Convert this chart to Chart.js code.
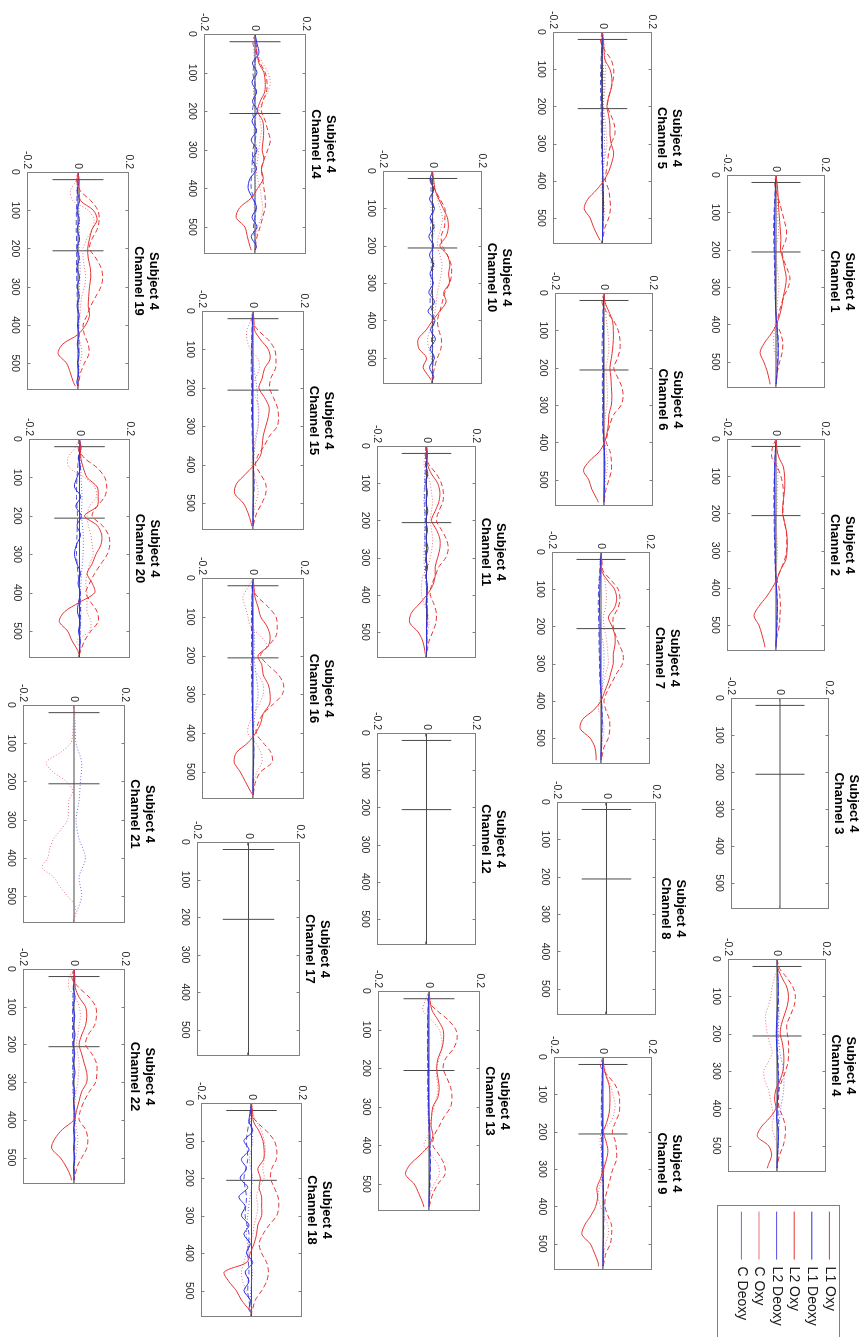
<!DOCTYPE html>
<html>
<head>
<meta charset="utf-8">
<script src="https://cdn.jsdelivr.net/npm/chart.js@4.4.1/dist/chart.umd.min.js"></script>
<style>
  html, body { margin: 0; padding: 0; background: #fff; overflow: hidden; }
  #page { position: absolute; left: 0; top: 0; width: 1337px; height: 865px;
          transform-origin: 0 0; transform: translate(865px, 0) rotate(90deg); }
  #page canvas { position: absolute; }
</style>
</head>
<body>
<div id="page"></div>
<script>
// ---- data ----
const channels = [1, 2, 3, 4, 5, 6, 7, 8, 9, 10, 11, 12, 13, 14, 15, 16, 17, 18, 19, 20, 21, 22];
const seriesNames = ["L1 Oxy", "L1 Deoxy", "L2 Oxy", "L2 Deoxy", "C Oxy", "C Deoxy"];
const tFine = [0, 25, 50, 75, 100, 125, 150, 175, 200, 225, 250, 275, 300, 325, 350, 375, 400, 425, 450, 475, 500, 525, 550, 560];
const tCoarse = [0, 50, 100, 150, 200, 250, 300, 350, 400, 450, 500, 550, 560];
const xTicks = [0, 100, 200, 300, 400, 500];
const yTicks = [-0.2, 0, 0.2];
const xRange = [0, 570];
const yRange = [-0.2, 0.2];
const markerTimes = [20, 206];
const markerHalf = 0.1;

// one row per channel, null = channel without data (sampled on tFine)
const l1Oxy = [
  [0, 0.005, 0.008, 0.01, 0.012, 0.015, 0.018, 0.02, 0.018, 0.028, 0.035, 0.042, 0.038, 0.03, 0.024, 0.015, 0.002, -0.02, -0.048, -0.065, -0.05, -0.036, -0.027, -0.024],
  [0, 0.003, 0.012, 0.03, 0.035, 0.036, 0.033, 0.028, 0.027, 0.035, 0.043, 0.046, 0.045, 0.04, 0.02, 0.005, -0.015, -0.04, -0.07, -0.09, -0.07, -0.058, -0.048, -0.045],
  null,
  [0, 0.004, 0.02, 0.04, 0.047, 0.042, 0.03, 0.018, 0.013, 0.022, 0.027, 0.028, 0.024, 0.012, -0.005, -0.01, -0.005, -0.03, -0.065, -0.08, -0.034, -0.022, -0.035, -0.04],
  [0, 0.004, 0.006, 0.01, 0.03, 0.038, 0.036, 0.025, 0.018, 0.025, 0.03, 0.03, 0.035, 0.045, 0.038, 0.025, 0.005, -0.025, -0.06, -0.074, -0.05, -0.036, -0.018, -0.01],
  [0, 0.004, 0.02, 0.035, 0.038, 0.038, 0.035, 0.03, 0.024, 0.028, 0.03, 0.032, 0.03, 0.02, 0.018, 0.012, 0.002, -0.02, -0.06, -0.084, -0.062, -0.05, -0.03, -0.023],
  [0, 0.002, 0.002, 0.025, 0.055, 0.064, 0.055, 0.03, 0.045, 0.057, 0.057, 0.05, 0.05, 0.04, 0.03, 0.015, 0, -0.03, -0.075, -0.085, -0.045, -0.025, -0.02, -0.02],
  null,
  [0, 0.003, 0.012, 0.025, 0.028, 0.028, 0.025, 0.015, 0.002, 0.012, 0.02, 0.014, 0.002, -0.01, -0.025, -0.022, -0.03, -0.05, -0.075, -0.086, -0.052, -0.035, -0.02, -0.018],
  [0, 0.005, 0.01, 0.025, 0.043, 0.06, 0.064, 0.055, 0.03, 0.06, 0.07, 0.065, 0.068, 0.045, 0.055, 0.03, 0, -0.025, -0.058, -0.055, -0.024, -0.038, -0.015, -0.005],
  [0, 0.003, 0.004, 0.02, 0.045, 0.054, 0.05, 0.035, 0.02, 0.04, 0.054, 0.054, 0.045, 0.035, 0.035, 0.025, 0.002, -0.03, -0.062, -0.068, -0.034, -0.015, -0.007, -0.005],
  null,
  [0, 0.004, 0.012, 0.035, 0.055, 0.057, 0.05, 0.035, 0.03, 0.035, 0.04, 0.035, 0.015, 0.01, 0.008, 0.015, 0, -0.035, -0.075, -0.092, -0.058, -0.04, -0.024, -0.02],
  [0, 0.002, 0.008, 0.015, 0.035, 0.04, 0.038, 0.02, 0.01, 0.03, 0.034, 0.032, 0.028, 0.035, 0.025, 0.032, 0.01, -0.015, -0.06, -0.074, -0.04, -0.03, -0.02, -0.015],
  [0, 0.004, 0.006, 0.03, 0.06, 0.067, 0.045, 0.036, 0.023, 0.045, 0.063, 0.06, 0.05, 0.04, 0.036, 0.03, 0.005, -0.03, -0.065, -0.072, -0.038, -0.02, -0.008, -0.005],
  [0, 0.004, 0.008, 0.02, 0.03, 0.055, 0.067, 0.06, 0.02, 0.035, 0.04, 0.06, 0.067, 0.065, 0.04, 0.03, 0.01, -0.02, -0.065, -0.074, -0.05, -0.03, -0.01, 0],
  null,
  [0, 0.004, 0.008, 0.03, 0.045, 0.05, 0.048, 0.025, 0.035, 0.03, 0.04, 0.04, 0.04, 0.025, 0.02, 0.01, -0.005, -0.02, -0.108, -0.09, -0.06, -0.04, -0.01, 0],
  [0, 0.004, 0.005, 0.01, 0.06, 0.075, 0.055, 0.045, 0.038, 0.04, 0.048, 0.05, 0.045, 0.042, 0.04, 0.045, 0.03, 0, -0.06, -0.078, -0.045, -0.03, -0.018, -0.01],
  [0, 0.004, 0.005, 0.015, 0.03, 0.07, 0.074, 0.07, 0.02, 0.07, 0.088, 0.085, 0.065, 0.05, 0.03, 0.05, 0.06, 0, -0.06, -0.08, -0.047, -0.03, -0.007, -0.003],
  null,
  [0, 0.003, 0.005, 0.02, 0.045, 0.05, 0.045, 0.03, 0.02, 0.03, 0.04, 0.05, 0.05, 0.03, 0.02, 0.01, 0, -0.045, -0.075, -0.088, -0.054, -0.03, -0.013, -0.01]
];

const l1Deoxy = [
  [0, -0.002, -0.003, -0.004, -0.005, -0.006, -0.006, -0.005, -0.005, -0.004, -0.004, -0.003, -0.003, -0.002, -0.002, 0, 0.003, 0.006, 0.008, 0.009, 0.008, 0.005, 0.002, 0],
  [0, -0.002, -0.004, -0.005, -0.006, -0.006, -0.005, -0.006, -0.005, -0.004, -0.005, -0.004, -0.003, -0.003, -0.002, 0, 0.002, 0.004, 0.005, 0.004, 0.003, 0.002, 0, 0],
  null,
  [0, 0.002, 0.004, 0.005, 0.004, 0.002, 0, -0.002, -0.003, -0.002, 0, 0.002, 0.004, 0.005, 0.004, 0.002, 0, -0.002, 0.003, 0.006, 0.004, 0.002, 0, 0],
  [0, -0.002, -0.003, -0.003, -0.004, -0.004, -0.003, -0.004, -0.003, -0.002, -0.003, -0.002, -0.002, -0.001, 0, 0.001, 0.002, 0.003, 0.004, 0.003, 0.002, 0.001, 0, 0],
  [0, -0.002, -0.003, -0.003, -0.002, -0.003, -0.002, -0.003, -0.002, -0.002, -0.003, -0.002, -0.002, -0.003, -0.004, -0.002, 0, 0.002, 0.003, 0.003, 0.002, 0.001, 0, 0],
  [0, -0.002, -0.003, -0.004, -0.005, -0.006, -0.006, -0.005, -0.004, -0.005, -0.004, -0.004, -0.003, -0.003, -0.002, 0, 0.002, 0.003, 0.004, 0.003, 0.002, 0.001, 0, 0],
  null,
  [0, -0.002, -0.003, -0.003, -0.004, -0.003, -0.003, -0.002, -0.002, -0.003, -0.002, -0.002, 0, 0.001, 0.002, 0.002, 0.003, 0.003, 0.002, 0.002, 0.001, 0, 0, 0],
  [0, -0.01, 0.005, -0.012, 0.008, -0.01, 0.006, -0.015, 0.004, -0.012, 0.005, -0.01, 0.003, -0.015, 0.008, -0.018, 0.01, -0.008, 0.012, -0.01, 0.008, -0.012, 0.005, 0],
  [0, 0.004, -0.002, 0.005, -0.003, 0.004, -0.002, 0.005, -0.003, 0.004, -0.002, 0.006, -0.003, 0.004, -0.002, 0.004, 0.002, -0.002, 0.003, 0.001, 0, 0.001, 0, 0],
  null,
  [0, -0.002, -0.003, -0.004, -0.003, -0.003, -0.004, -0.003, -0.002, -0.003, -0.002, -0.002, -0.001, 0, 0.002, 0.004, 0.003, 0.003, 0.004, 0.003, 0.002, 0.001, 0, 0],
  [0, 0.008, 0.015, -0.01, 0.008, -0.012, 0.006, -0.01, 0.01, -0.012, 0.005, -0.015, 0.008, -0.01, 0.006, -0.02, -0.027, -0.01, 0.006, -0.012, 0.008, -0.015, 0.006, 0],
  [0, -0.002, -0.003, -0.003, -0.004, -0.004, -0.003, -0.003, -0.002, -0.003, -0.002, -0.002, -0.001, 0, 0.001, 0.002, 0.002, 0.002, 0.003, 0.002, 0.001, 0, 0, 0],
  [0, -0.002, -0.003, -0.003, -0.002, -0.003, -0.002, -0.003, -0.002, -0.003, -0.002, -0.003, -0.003, -0.002, -0.002, -0.001, 0, 0.002, 0.003, 0.002, 0.001, 0, 0, 0],
  null,
  [0, -0.005, -0.01, 0.005, -0.03, -0.01, -0.04, -0.02, -0.045, -0.015, -0.05, -0.025, -0.04, -0.01, -0.03, -0.005, -0.02, 0.005, -0.025, -0.01, -0.03, -0.005, -0.01, 0],
  [0, 0.004, -0.003, 0.006, -0.004, 0.005, -0.003, 0.006, -0.004, 0.005, -0.004, 0.006, -0.003, 0.005, -0.004, 0.005, -0.002, 0.004, -0.003, 0.004, -0.002, 0.003, -0.005, 0],
  [0, 0.006, -0.005, 0.004, -0.01, -0.02, 0.005, -0.015, 0.007, -0.01, 0.004, -0.012, -0.02, -0.01, 0.004, -0.006, 0.003, -0.004, -0.008, 0.002, -0.004, 0.003, 0, 0],
  null,
  [0, 0.003, -0.002, 0.004, -0.003, 0.003, -0.002, 0.004, -0.003, 0.003, -0.002, 0.004, -0.003, 0.003, -0.002, 0.003, 0.004, -0.002, 0.003, -0.002, 0.003, -0.002, 0, 0]
];

const l2Oxy = [
  [0, -0.005, 0.004, 0.015, 0.025, 0.035, 0.043, 0.04, 0.025, 0.03, 0.045, 0.057, 0.05, 0.032, 0.02, 0.01, 0.005, 0.02, 0.028, 0.025, 0.015, 0.006, 0, 0],
  [0, -0.015, -0.017, 0.005, 0.02, 0.028, 0.03, 0.03, 0.028, 0.035, 0.042, 0.044, 0.043, 0.035, 0.02, 0.005, 0.012, 0.016, 0.018, 0.016, 0.014, 0.006, 0, 0],
  null,
  [0, 0.01, 0.04, 0.065, 0.075, 0.07, 0.055, 0.04, 0.042, 0.047, 0.047, 0.045, 0.035, 0.02, 0.008, 0.004, 0.01, 0.025, 0.034, 0.033, 0.025, 0.01, 0.002, 0],
  [0, -0.008, 0.01, 0.035, 0.045, 0.044, 0.035, 0.025, 0.02, 0.035, 0.048, 0.05, 0.035, 0.025, 0.02, 0.015, 0.012, 0.025, 0.03, 0.032, 0.025, 0.01, 0.003, 0],
  [0, -0.008, 0.01, 0.04, 0.058, 0.065, 0.065, 0.055, 0.04, 0.055, 0.072, 0.078, 0.07, 0.04, 0.025, 0.015, 0.01, 0.025, 0.03, 0.03, 0.02, 0.008, 0.002, 0],
  [0, 0.004, 0.008, 0.04, 0.07, 0.077, 0.07, 0.05, 0.05, 0.06, 0.075, 0.09, 0.088, 0.065, 0.045, 0.025, 0.012, 0.02, 0.034, 0.036, 0.03, 0.012, 0.004, 0],
  null,
  [0, -0.01, 0.02, 0.05, 0.065, 0.068, 0.066, 0.05, 0.038, 0.05, 0.055, 0.055, 0.04, 0.03, 0.02, 0.01, 0.008, 0.02, 0.035, 0.035, 0.03, 0.012, 0.004, 0],
  [0, -0.008, 0.01, 0.03, 0.05, 0.05, 0.048, 0.035, 0.04, 0.06, 0.075, 0.077, 0.07, 0.05, 0.04, 0.03, 0.02, 0.025, 0.036, 0.034, 0.02, 0.008, 0.002, 0],
  [0, -0.005, 0.01, 0.04, 0.06, 0.068, 0.066, 0.05, 0.04, 0.06, 0.08, 0.088, 0.078, 0.05, 0.035, 0.02, 0.015, 0.03, 0.04, 0.038, 0.025, 0.01, 0.003, 0],
  null,
  [0, -0.005, 0.03, 0.075, 0.105, 0.11, 0.095, 0.065, 0.055, 0.07, 0.085, 0.09, 0.085, 0.06, 0.04, 0.02, 0.015, 0.04, 0.06, 0.063, 0.035, 0.015, 0.004, 0],
  [0, -0.008, 0.005, 0.02, 0.04, 0.047, 0.045, 0.03, 0.025, 0.04, 0.05, 0.06, 0.05, 0.035, 0.025, 0.03, 0.035, 0.04, 0.04, 0.03, 0.02, 0.008, 0.002, 0],
  [0, -0.005, 0.02, 0.06, 0.085, 0.09, 0.088, 0.07, 0.065, 0.08, 0.095, 0.1, 0.095, 0.065, 0.045, 0.02, 0.01, 0.03, 0.05, 0.05, 0.035, 0.015, 0.004, 0],
  [0, -0.005, 0.02, 0.06, 0.09, 0.095, 0.09, 0.06, 0.03, 0.06, 0.1, 0.12, 0.115, 0.08, 0.04, 0.02, 0.012, 0.04, 0.07, 0.075, 0.03, 0.01, 0.003, 0],
  null,
  [0, -0.005, 0.02, 0.06, 0.09, 0.1, 0.098, 0.08, 0.075, 0.09, 0.105, 0.108, 0.1, 0.07, 0.045, 0.03, 0.04, 0.06, 0.067, 0.06, 0.04, 0.015, 0.004, 0],
  [0, -0.005, 0.01, 0.05, 0.078, 0.083, 0.075, 0.055, 0.045, 0.07, 0.09, 0.097, 0.09, 0.07, 0.05, 0.035, 0.02, 0.025, 0.04, 0.043, 0.025, 0.01, 0.003, 0],
  [0, -0.005, 0.02, 0.07, 0.1, 0.108, 0.1, 0.07, 0.05, 0.09, 0.115, 0.12, 0.11, 0.085, 0.06, 0.04, 0.025, 0.045, 0.07, 0.074, 0.045, 0.02, 0.005, 0],
  null,
  [0, -0.008, 0.02, 0.06, 0.085, 0.088, 0.08, 0.055, 0.045, 0.07, 0.088, 0.09, 0.085, 0.06, 0.04, 0.025, 0.02, 0.045, 0.054, 0.05, 0.03, 0.012, 0.003, 0]
];

// sampled on tCoarse
const l2Deoxy = [
  [0, -0.004, -0.008, -0.01, -0.008, -0.006, -0.004, -0.002, 0.004, 0.01, 0.006, 0.002, 0],
  [0, -0.004, -0.007, -0.009, -0.008, -0.007, -0.005, -0.003, 0.002, 0.006, 0.004, 0.001, 0],
  null,
  [0, 0.003, 0.006, 0.004, -0.002, 0.003, 0.006, 0.008, 0.004, 0.006, 0.004, 0.001, 0],
  [0, -0.004, -0.007, -0.008, -0.006, -0.005, -0.004, -0.002, 0.002, 0.004, 0.003, 0.001, 0],
  [0, -0.004, -0.006, -0.008, -0.006, -0.007, -0.005, -0.006, -0.002, 0.003, 0.002, 0.001, 0],
  [0, -0.005, -0.01, -0.011, -0.009, -0.008, -0.006, -0.004, 0.002, 0.005, 0.003, 0.001, 0],
  null,
  [0, -0.003, -0.006, -0.007, -0.006, -0.005, -0.004, 0, 0.002, 0.003, 0.002, 0.001, 0],
  [0, -0.006, 0.004, -0.008, 0.003, -0.006, 0.002, -0.01, 0.006, -0.004, 0.003, -0.002, 0],
  [0, -0.004, -0.006, -0.007, -0.005, -0.006, -0.004, -0.003, 0.002, 0.003, 0.002, 0.001, 0],
  null,
  [0, -0.004, -0.006, -0.006, -0.005, -0.005, -0.003, -0.001, 0.004, 0.006, 0.004, 0.001, 0],
  [0, 0.006, -0.008, 0.005, -0.01, 0.006, -0.008, -0.012, -0.015, 0.004, -0.006, 0.003, 0],
  [0, -0.004, -0.006, -0.007, -0.005, -0.006, -0.004, -0.002, 0.002, 0.004, 0.002, 0.001, 0],
  [0, -0.004, -0.006, -0.006, -0.005, -0.006, -0.004, -0.003, 0.002, 0.003, 0.002, 0.001, 0],
  null,
  [0, -0.01, -0.02, -0.015, -0.03, -0.02, -0.025, -0.01, -0.015, -0.01, -0.015, -0.004, 0],
  [0, -0.003, -0.006, -0.007, -0.005, -0.006, -0.004, -0.002, 0.002, 0.004, 0.002, 0.001, 0],
  [0, -0.004, -0.01, -0.012, -0.008, -0.01, -0.012, -0.006, 0.002, 0.004, 0.002, 0.001, 0],
  null,
  [0, -0.003, -0.005, -0.006, -0.005, -0.005, -0.004, -0.002, 0.002, 0.003, 0.002, 0.001, 0]
];

// sampled on tFine
const cOxy = [
  [0, 0.002, 0.004, 0.006, 0.005, 0.008, 0.01, 0.006, -0.004, 0.002, 0.006, 0.01, 0.012, 0.008, 0.005, 0.002, -0.004, -0.008, -0.01, -0.006, 0.004, 0.003, 0, 0],
  [0, 0.003, 0.002, 0.005, 0.008, 0.006, 0.004, 0.005, 0.003, -0.003, 0.002, 0.005, 0.006, 0.004, 0.002, 0, -0.004, -0.002, 0.004, 0.006, 0.003, 0.002, 0, 0],
  null,
  [0, 0.002, -0.01, -0.02, -0.025, -0.035, -0.047, -0.045, -0.04, -0.03, -0.02, -0.035, -0.054, -0.05, -0.035, -0.027, -0.02, -0.015, -0.02, -0.01, 0.005, 0.003, 0, 0],
  [0, 0.005, 0.008, 0.01, 0.012, 0.01, 0.01, 0.006, 0.004, 0.008, 0.012, 0.015, 0.018, 0.012, 0.006, 0.002, -0.003, -0.005, 0.004, 0.008, 0.005, 0.002, 0, 0],
  [0, 0.003, 0.006, 0.01, 0.015, 0.018, 0.02, 0.015, 0.008, 0.01, 0.012, 0.014, 0.012, 0.006, 0.003, 0.002, 0.004, 0.01, 0.015, 0.012, 0.006, 0.003, 0, 0],
  [0, -0.005, 0.005, 0.015, 0.02, 0.022, 0.018, 0.01, 0.012, 0.02, 0.025, 0.028, 0.03, 0.02, 0.01, 0.004, -0.005, -0.01, 0.005, 0.012, 0.008, 0.003, 0, 0],
  null,
  [0, 0.005, 0.015, 0.03, 0.04, 0.049, 0.045, 0.03, -0.005, -0.012, -0.008, 0.002, 0.006, -0.005, -0.015, -0.02, -0.01, 0.005, 0.02, 0.022, 0.01, 0.004, 0, 0],
  [0, 0.004, 0.012, 0.02, 0.03, 0.04, 0.035, 0.025, 0.02, 0.03, 0.038, 0.035, 0.028, 0.02, 0.015, 0.01, 0.004, -0.01, -0.02, -0.015, -0.005, 0, 0.002, 0],
  [0, -0.005, -0.01, 0.005, 0.015, 0.02, 0.025, 0.02, 0.015, 0.02, 0.025, 0.022, 0.015, 0.005, -0.015, -0.02, -0.02, -0.01, 0.005, 0.01, 0.005, 0.002, 0, 0],
  null,
  [0, -0.015, -0.024, 0.01, 0.04, 0.05, 0.05, 0.04, 0.03, 0.03, 0.035, 0.03, 0.02, 0.01, 0.005, -0.005, -0.02, 0.01, 0.035, 0.04, 0.02, 0.006, 0, 0],
  [0, 0.005, 0.01, 0.03, 0.05, 0.06, 0.05, 0.03, 0.015, 0.02, 0.025, 0.02, 0.015, 0.01, 0.005, 0.01, 0.02, 0.025, 0.03, 0.025, 0.01, 0.004, 0, 0],
  [0, -0.01, -0.024, -0.024, -0.01, 0.02, 0.025, 0.01, -0.005, 0.01, 0.023, 0.023, 0.02, 0.01, 0.005, 0.002, -0.005, 0.005, 0.015, 0.02, 0.01, 0.004, 0, 0],
  [0, -0.02, -0.04, -0.03, -0.02, -0.01, 0.03, 0.054, 0.02, -0.01, 0.02, 0.04, 0.04, 0.025, 0.005, -0.015, -0.02, 0.01, 0.03, 0.035, 0.015, 0.004, 0, 0],
  null,
  [0, 0.005, 0.02, 0.04, 0.05, 0.055, 0.05, 0.045, 0.05, 0.03, 0.02, 0.025, 0.02, 0.01, 0.005, -0.01, -0.02, -0.03, -0.04, -0.035, -0.02, -0.005, 0, 0],
  [0, -0.01, -0.03, -0.02, 0.04, 0.063, 0.055, 0.035, 0.02, 0.02, 0.025, 0.03, 0.025, 0.015, 0.01, 0.008, 0.005, 0, 0.01, 0.015, 0.008, 0.003, 0, 0],
  [0, -0.02, -0.047, -0.04, 0.02, 0.06, 0.067, 0.04, 0.03, 0.035, 0.045, 0.05, 0.054, 0.04, 0.03, 0.025, 0.03, 0.03, 0.03, 0.045, 0.04, -0.01, 0.005, 0],
  [0, 0.003, -0.003, -0.005, -0.013, -0.055, -0.109, -0.083, -0.03, -0.005, -0.02, -0.022, -0.025, -0.05, -0.08, -0.095, -0.103, -0.125, -0.08, -0.055, -0.025, 0.004, 0.002, 0],
  [0, -0.02, -0.02, 0.005, 0.02, 0.025, 0.02, 0.015, 0.01, 0.015, 0.02, 0.018, 0.015, 0.008, 0.004, 0.002, 0.005, 0.01, 0.015, 0.012, 0.006, 0.002, 0, 0]
];

// sampled on tCoarse
const cDeoxy = [
  [0, -0.003, -0.005, -0.004, -0.006, -0.003, -0.004, -0.002, 0.002, 0.004, 0.002, 0, 0],
  [0, -0.002, -0.006, -0.005, -0.007, -0.004, -0.003, -0.002, 0.001, 0.003, 0.002, 0, 0],
  null,
  [0, 0.004, 0.006, 0.008, 0.005, 0.012, 0.027, 0.027, 0.015, 0.008, 0.004, 0.002, 0],
  [0, -0.003, 0.004, 0.006, 0.003, 0.005, 0.008, 0.004, 0.001, 0.002, 0.001, 0, 0],
  [0, -0.002, -0.004, -0.003, -0.005, -0.004, -0.006, -0.004, 0, 0.002, 0.001, 0, 0],
  [0, -0.003, -0.008, -0.006, -0.007, 0.01, 0.012, 0.006, 0.002, 0.003, 0.002, 0, 0],
  null,
  [0, -0.002, -0.004, -0.005, -0.003, -0.004, -0.006, -0.002, 0.001, 0.002, 0.001, 0, 0],
  [0, 0.004, -0.006, 0.008, -0.004, 0.006, -0.008, 0.005, -0.003, 0.004, -0.002, 0.001, 0],
  [0, -0.005, -0.008, -0.01, -0.006, -0.008, -0.01, -0.006, 0.004, 0.003, 0.001, 0, 0],
  null,
  [0, -0.003, -0.004, -0.005, -0.004, -0.005, -0.004, -0.002, 0.003, 0.004, 0.002, 0, 0],
  [0, -0.004, 0.004, -0.006, 0.005, -0.004, 0.006, -0.005, 0.003, -0.003, 0.002, 0, 0],
  [0, -0.002, -0.005, 0.004, 0.015, 0.02, 0.02, 0.008, 0.002, 0.003, 0.001, 0, 0],
  [0, -0.003, -0.004, 0.006, 0.004, 0.012, 0.02, 0.008, 0.002, 0.003, 0.001, 0, 0],
  null,
  [0, -0.005, 0.005, -0.008, 0.004, -0.006, -0.015, -0.02, -0.01, 0.004, -0.004, 0, 0],
  [0, -0.004, 0.004, 0.006, 0.004, 0.008, 0.006, 0.003, 0.002, 0.004, 0.002, 0, 0],
  [0, 0.004, 0.006, 0.01, 0.008, 0.015, 0.014, 0.008, 0.004, 0.006, 0.003, 0, 0],
  [0, 0.004, 0.008, 0.03, 0.025, 0.02, 0.008, 0.02, 0.045, 0.02, 0.03, 0.005, 0],
  [0, -0.002, -0.004, -0.003, -0.004, -0.003, -0.004, -0.002, 0.001, 0.002, 0.001, 0, 0]
];

// ---- layout: plot boxes as seen on the rotated page (left, top, width, height) ----
const panelBoxes = [
  [727, 175, 98, 213], [727, 439, 98, 212], [731, 698, 98, 211], [728, 959, 98, 213],
  [553, 32, 99, 212], [555, 293, 98, 213], [552, 552, 98, 212], [557, 802, 99, 213], [554, 1057, 98, 213],
  [383, 171, 99, 213], [377, 446, 99, 212], [377, 733, 99, 212], [378, 991, 102, 220],
  [204, 34, 102, 220], [202, 311, 102, 219], [202, 578, 102, 221], [197, 842, 103, 214], [201, 1103, 101, 214],
  [27, 172, 102, 218], [29, 439, 101, 219], [23, 705, 102, 218], [23, 969, 102, 215]
];
const PAGE_H = 865;
const M_SIDE = 34, M_TOP = 34, M_BOTTOM = 22;
const FONT = "'Liberation Sans', Arial, Helvetica, sans-serif";

const seriesStyle = [
  { color: "rgb(232,50,50)", dash: [] },
  { color: "rgb(45,45,225)", dash: [] },
  { color: "rgb(232,50,50)", dash: [5, 3] },
  { color: "rgb(80,80,225)", dash: [5, 3] },
  { color: "rgb(236,115,125)", dash: [1, 2] },
  { color: "rgb(110,110,228)", dash: [1, 2] }
];
const seriesData = [l1Oxy, l1Deoxy, l2Oxy, l2Deoxy, cOxy, cDeoxy];
const seriesTimes = [tFine, tFine, tFine, tCoarse, tFine, tCoarse];

Chart.defaults.font.family = FONT;

function toPoints(times, values) {
    return values.map((v, i) => ({ x: times[i], y: v }));
}

// frame + inward ticks like the original figure
const framePlugin = {
    id: "frame",
    afterDraw(chart) {
        const { ctx, chartArea: a, scales } = chart;
        const l = Math.round(a.left) + 0.5, t = Math.round(a.top) + 0.5;
        const r = Math.round(a.right) - 0.5, b = Math.round(a.bottom) - 0.5;
        ctx.save();
        ctx.strokeStyle = "#808080";
        ctx.lineWidth = 1;
        ctx.setLineDash([]);
        ctx.strokeRect(l, t, r - l, b - t);
        ctx.beginPath();
        xTicks.slice(1).forEach(v => {
            const px = Math.round(scales.x.getPixelForValue(v)) + 0.5;
            ctx.moveTo(px, t); ctx.lineTo(px, t + 3);
            ctx.moveTo(px, b); ctx.lineTo(px, b - 3);
        });
        const py = Math.round(scales.y.getPixelForValue(0)) + 0.5;
        ctx.moveTo(l, py); ctx.lineTo(l + 3, py);
        ctx.moveTo(r, py); ctx.lineTo(r - 3, py);
        ctx.stroke();
        ctx.restore();
    }
};

const page = document.getElementById("page");

channels.forEach((ch, idx) => {
    const [bx, by, bw, bh] = panelBoxes[idx];
    const plotLeft = by, plotTop = PAGE_H - bx - bw, plotW = bh, plotH = bw;

    const canvas = document.createElement("canvas");
    canvas.width = plotW + 2 * M_SIDE;
    canvas.height = plotH + M_TOP + M_BOTTOM;
    canvas.style.left = (plotLeft - M_SIDE) + "px";
    canvas.style.top = (plotTop - M_TOP) + "px";
    page.appendChild(canvas);

    const datasets = [];
    seriesNames.forEach((name, s) => {
        const vals = seriesData[s][idx];
        if (!vals) return;
        datasets.push({
            label: name,
            data: toPoints(seriesTimes[s], vals),
            borderColor: seriesStyle[s].color,
            backgroundColor: "transparent",
            borderDash: seriesStyle[s].dash,
            borderWidth: 1,
            pointRadius: 0,
            tension: 0.3,
            order: 0
        });
    });
    // zero line and the two event markers
    datasets.push({
        label: "zero",
        data: [{ x: xRange[0], y: 0 }, { x: xRange[1], y: 0 }],
        borderColor: "#4a4a4a", borderWidth: 1, pointRadius: 0, order: 1
    });
    markerTimes.forEach(t => {
        datasets.push({
            label: "marker",
            data: [{ x: t, y: -markerHalf }, { x: t, y: markerHalf }],
            borderColor: "#4a4a4a", borderWidth: 1, pointRadius: 0, order: 1
        });
    });

    new Chart(canvas, {
        type: "line",
        data: { datasets },
        options: {
            responsive: false,
            animation: false,
            devicePixelRatio: 1,
            layout: { padding: 0 },
            plugins: {
                legend: { display: false },
                tooltip: { enabled: false },
                title: {
                    display: true,
                    text: ["Subject 4", "Channel " + ch],
                    color: "#000",
                    font: { size: 13, weight: "bold", lineHeight: "15px" },
                    padding: { top: 2, bottom: 2 }
                }
            },
            scales: {
                x: {
                    type: "linear", min: xRange[0], max: xRange[1],
                    grid: { display: false, drawTicks: false },
                    border: { display: false },
                    ticks: { color: "#262626", font: { size: 10.5 }, padding: 6, maxRotation: 0, autoSkip: false },
                    afterBuildTicks: s => { s.ticks = xTicks.map(v => ({ value: v })); },
                    afterFit: s => { s.height = M_BOTTOM; }
                },
                y: {
                    type: "linear", min: yRange[0], max: yRange[1],
                    grid: { display: false, drawTicks: false },
                    border: { display: false },
                    ticks: { color: "#262626", font: { size: 10.5 }, padding: 3, callback: v => String(v) },
                    afterBuildTicks: s => { s.ticks = yTicks.map(v => ({ value: v })); },
                    afterFit: s => { s.width = M_SIDE; }
                },
                y2: {
                    type: "linear", position: "right", min: yRange[0], max: yRange[1],
                    grid: { display: false, drawTicks: false },
                    border: { display: false },
                    ticks: { display: false },
                    afterFit: s => { s.width = M_SIDE; }
                }
            }
        },
        plugins: [framePlugin]
    });
});

// legend panel
const legendBox = {
    id: "legendBox",
    afterDraw(chart) {
        const ctx = chart.ctx;
        ctx.save();
        ctx.strokeStyle = "#808080";
        ctx.lineWidth = 1;
        ctx.setLineDash([]);
        ctx.strokeRect(0.5, 0.5, 190, 122);
        ctx.restore();
    }
};
const legendCanvas = document.createElement("canvas");
legendCanvas.width = 200;
legendCanvas.height = 200;
legendCanvas.style.left = "1205px";
legendCanvas.style.top = "25px";
page.appendChild(legendCanvas);

new Chart(legendCanvas, {
    type: "line",
    data: {
        datasets: seriesNames.map((name, s) => ({
            label: name,
            data: [{ x: 0, y: 0 }],
            borderColor: seriesStyle[s].color,
            backgroundColor: "transparent",
            borderDash: seriesStyle[s].dash,
            borderWidth: 1,
            pointRadius: 0
        }))
    },
    options: {
        responsive: false,
        animation: false,
        devicePixelRatio: 1,
        layout: { padding: { left: 3, top: 0, right: 0, bottom: 0 } },
        scales: { x: { type: "linear", display: false }, y: { display: false } },
        plugins: {
            tooltip: { enabled: false },
            legend: {
                display: true,
                position: "top",
                align: "start",
                maxHeight: 160,
                labels: {
                    color: "#1a1a1a",
                    font: { size: 14, lineHeight: "16px" },
                    padding: 3.6,
                    usePointStyle: true,
                    pointStyle: "line",
                    pointStyleWidth: 48,
                    boxWidth: 48,
                    boxHeight: 14
                }
            }
        }
    },
    plugins: [legendBox]
});
</script>
</body>
</html>
